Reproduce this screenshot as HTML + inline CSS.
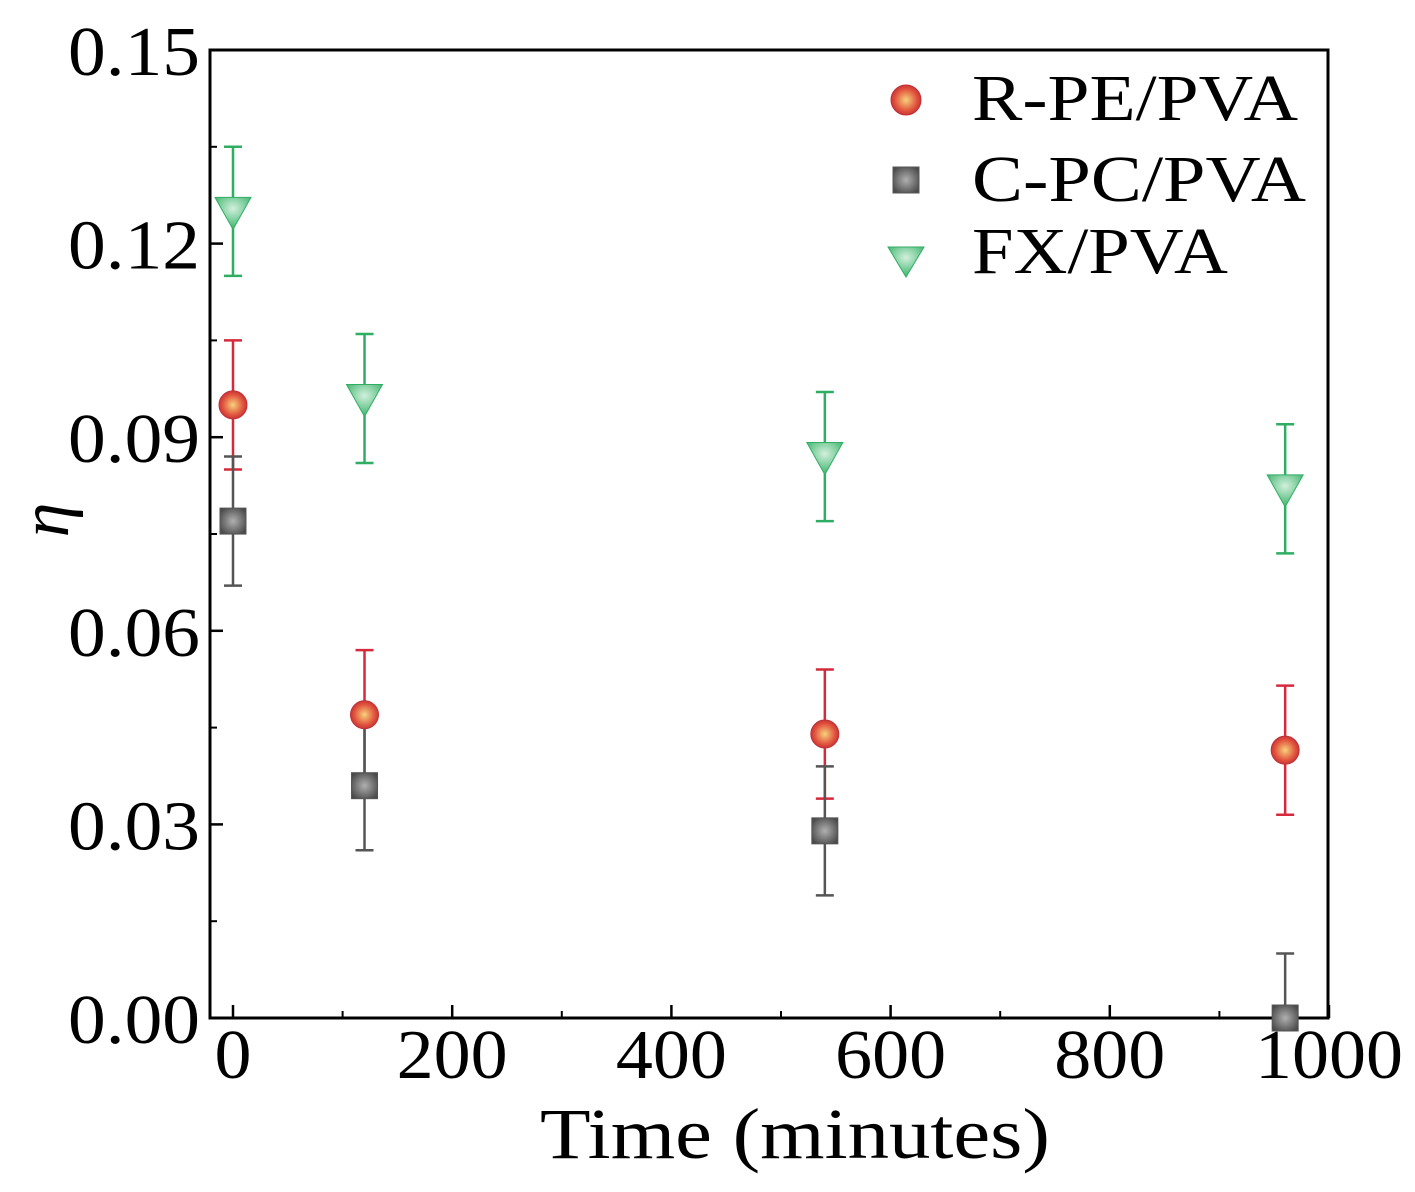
<!DOCTYPE html>
<html><head><meta charset="utf-8"><style>
html,body{margin:0;padding:0;background:#fff;}
svg{display:block;font-family:"Liberation Serif",serif;}
</style></head><body>
<svg id="chart" width="1415" height="1192" viewBox="0 0 1415 1192" xmlns="http://www.w3.org/2000/svg">
<defs>
<radialGradient id="gR" cx="0.5" cy="0.5" r="0.6"><stop offset="0" stop-color="#f6d27a"/><stop offset="0.6" stop-color="#e2553f"/><stop offset="1" stop-color="#b8202a"/></radialGradient>
<radialGradient id="gG" cx="0.5" cy="0.5" r="0.6"><stop offset="0" stop-color="#b0b0b0"/><stop offset="1" stop-color="#4a4a4a"/></radialGradient>
<radialGradient id="gT" cx="0.5" cy="0.35" r="0.7"><stop offset="0" stop-color="#d2f0dc"/><stop offset="1" stop-color="#2fae63"/></radialGradient>
</defs>
<g id="plot"></g>
</svg>
<script>
const times=[0,120,540,960];
const rpe=[0.095,0.047,0.044,0.0415];
const rpeErr=[0.010,0.010,0.010,0.010];
const cpc=[0.077,0.036,0.029,0.000];
const cpcErr=[0.010,0.010,0.010,0.010];
const fx=[0.125,0.096,0.087,0.082];
const fxErr=[0.010,0.010,0.010,0.010];
const xTicks=[0,200,400,600,800,1000];
const yTicks=[0,0.03,0.06,0.09,0.12,0.15];
const yLabels=["0.00","0.03","0.06","0.09","0.12","0.15"];

const L=210,R=1328,T=50,B=1018;
const X=v=>233+v*(219.2/200);
const Y=v=>B-(v/0.15)*(B-T);
const NS="http://www.w3.org/2000/svg";
const g=document.getElementById('plot');
function mk(tag,attrs,parent){const e=document.createElementNS(NS,tag);for(const k in attrs)e.setAttribute(k,attrs[k]);(parent||g).appendChild(e);return e;}

const frame=mk('rect',{x:L,y:T,width:R-L,height:B-T,fill:'none',stroke:'#000','stroke-width':3});



xTicks.forEach((t,i)=>{
  const x=X(t);
  const tk=mk('line',{x1:x,x2:x,y1:B,y2:B-13,stroke:'#000','stroke-width':2.5});
  
  
  if(i<xTicks.length-1){const xm=X(t+100);const m=mk('line',{x1:xm,x2:xm,y1:B,y2:B-7,stroke:'#000','stroke-width':2});
  
  }
  const s=String(t);
  const lb=mk('text',{x:x,y:1078,'font-size':70,'text-anchor':'middle',textLength:s.length*37,lengthAdjust:'spacingAndGlyphs'});lb.textContent=s;
  
  
});
yTicks.forEach((t,i)=>{
  const y=Y(t);
  const tk=mk('line',{x1:L,x2:L+13,y1:y,y2:y,stroke:'#000','stroke-width':2.5});
  
  
  if(i<yTicks.length-1){const ym=Y(t+0.015);const m=mk('line',{x1:L,x2:L+7,y1:ym,y2:ym,stroke:'#000','stroke-width':2});
  
  }
  const lb=mk('text',{x:68,y:y+25,'font-size':70,textLength:132,lengthAdjust:'spacingAndGlyphs'});lb.textContent=yLabels[i];
  
  
});

function errbar(x,v,e,col){
  const gg=mk('g',{stroke:col,'stroke-width':2.5});
  
  
  mk('line',{x1:x,x2:x,y1:Y(v+e),y2:Y(Math.max(v-e,0))},gg);
  mk('line',{x1:x-9,x2:x+9,y1:Y(v+e),y2:Y(v+e)},gg);
  if(v-e>=0)mk('line',{x1:x-9,x2:x+9,y1:Y(v-e),y2:Y(v-e)},gg);
}
times.forEach((t,i)=>{
  const x=X(t);
  errbar(x,rpe[i],rpeErr[i],'#d42a3c');
  errbar(x,cpc[i],cpcErr[i],'#555');
  errbar(x,fx[i],fxErr[i],'#2fae63');
});
times.forEach((t,i)=>{
  const x=X(t);
  const s=mk('rect',{x:x-13,y:Y(cpc[i])-13,width:26,height:26,fill:'url(#gG)',stroke:'#555','stroke-width':1});
  
  
  const c=mk('circle',{cx:x,cy:Y(rpe[i]),r:14,fill:'url(#gR)',stroke:'#c0303a','stroke-width':1});
  
  
  const y=Y(fx[i]);
  const tr=mk('polygon',{points:`${x-18},${y-14} ${x+18},${y-14} ${x},${y+18}`,fill:'url(#gT)',stroke:'#2fae63','stroke-width':1});
  
  
});

// legend
const lg=mk('g',{});


const lc=mk('circle',{cx:906,cy:100,r:15,fill:'url(#gR)',stroke:'#c0303a'},lg);


const ls=mk('rect',{x:893,y:167,width:26,height:26,fill:'url(#gG)',stroke:'#555'},lg);


const lt=mk('polygon',{points:'888,247 924,247 906,277',fill:'url(#gT)',stroke:'#2fae63'},lg);


[['R-PE/PVA',120,326],['C-PC/PVA',201,334],['FX/PVA',273,256]].forEach(([s,y,w])=>{
  const t=mk('text',{x:972,y:y,'font-size':66,textLength:w,lengthAdjust:'spacingAndGlyphs'},lg);t.textContent=s;
  
  
});

const xt=mk('text',{x:540,y:1158,'font-size':72,textLength:510,lengthAdjust:'spacingAndGlyphs'});xt.textContent='Time (minutes)';


const yt=mk('text',{x:48,y:540,'font-size':70,'font-style':'italic','text-anchor':'middle',transform:'rotate(-90 48 520)'});yt.textContent='η';


</script>
</body></html>
